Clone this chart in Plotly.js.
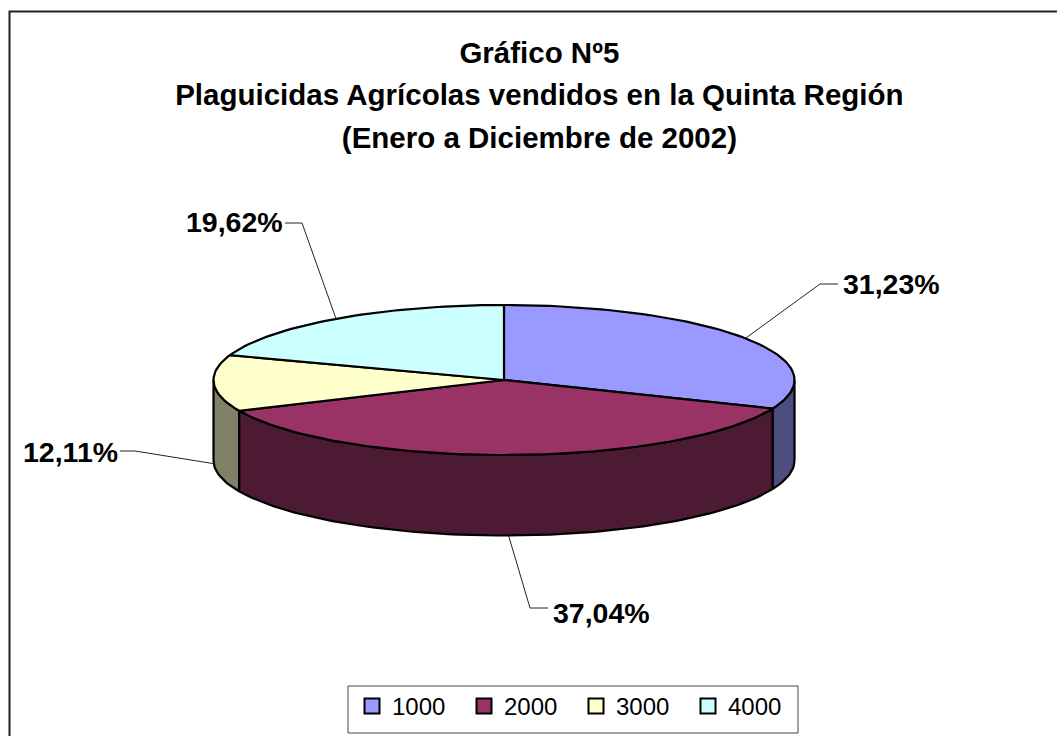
<!DOCTYPE html>
<html><head><meta charset="utf-8">
<script src="https://cdn.plot.ly/plotly-3.0.1.min.js"></script>
<style>html,body{margin:0;padding:0;background:#fff}#c{width:1057px;height:736px}</style>
</head><body><div id="c"></div>
<script>
const categories = ['1000','2000','3000','4000'];
const percents = [31.23,37.04,12.11,19.62];
const topColors = ['#9999FF','#993366','#FFFFCC','#CCFFFF'];
const sideColors = ['#4D4D80','#4D1A33','#808066','#668080'];
const labelElbows = [[820,284],[530,608],[135,451],[302,223]];
const labelEnds = [[838,284],[548,608],[120,451],[285,223]];
const labelY = [284,613,452,222];
const titleLines = ['Gráfico Nº5','Plaguicidas Agrícolas vendidos en la Quinta Región','(Enero a Diciembre de 2002)'];

const cx=504, cy=380, rx=290.5, ry=75, depth=80.5;
const FONT='Liberation Sans, Arial, sans-serif';
const px=t=>cx+rx*Math.sin(t*Math.PI/180);
const py=t=>cy-ry*Math.cos(t*Math.PI/180);
function arc(a,b){const n=Math.max(2,Math.ceil(Math.abs(b-a)/1.5));const xs=[],ys=[];
  for(let i=0;i<=n;i++){const t=a+(b-a)*i/n;xs.push(px(t));ys.push(py(t));}return [xs,ys];}

const total=percents.reduce((s,v)=>s+v,0);
let acc=0;
const spans=percents.map(v=>{const a=acc/total*360;acc+=v;return [a,acc/total*360];});

const traces=[];
// side walls (only the front half, 90..270 deg, is visible)
spans.forEach((s,i)=>{
  const a=Math.max(s[0],90), b=Math.min(s[1],270);
  if(b<=a) return;
  const [xs,ys]=arc(a,b);
  const X=xs.concat(xs.slice().reverse(),[xs[0]]);
  const Y=ys.map(y=>y+depth).concat(ys.slice().reverse(),[ys[0]+depth]);
  traces.push({x:X,y:Y,mode:'lines',fill:'toself',fillcolor:sideColors[i],
    line:{color:'#000',width:2.2},showlegend:false,hoverinfo:'skip'});
});
// top faces
spans.forEach((s,i)=>{
  const [xs,ys]=arc(s[0],s[1]);
  traces.push({x:[cx].concat(xs,[cx]),y:[cy].concat(ys,[cy]),mode:'lines',fill:'toself',
    fillcolor:topColors[i],line:{color:'#000',width:2.2},showlegend:false,
    name:categories[i],text:categories[i],hoverinfo:'text'});
});
// leader lines
spans.forEach((s,i)=>{
  const mid=(s[0]+s[1])/2, c=Math.cos(mid*Math.PI/180);
  const ax=px(mid), ay=py(mid)+(c<0?depth:0);
  traces.push({x:[ax,labelElbows[i][0],labelEnds[i][0]],y:[ay,labelElbows[i][1],labelEnds[i][1]],
    mode:'lines',line:{color:'#222',width:1},showlegend:false,hoverinfo:'skip'});
});
// legend entries
categories.forEach((c,i)=>{
  traces.push({x:[null],y:[null],mode:'markers',name:c,
    marker:{symbol:'square',size:15,color:topColors[i],line:{color:'#000',width:2}},hoverinfo:'skip'});
});

const annotations=percents.map((v,i)=>{
  const right=labelEnds[i][0]<labelElbows[i][0];
  return {x:labelEnds[i][0]+(right?0:3),y:labelY[i],xref:'x',yref:'y',showarrow:false,
    xanchor:right?'right':'left',yanchor:'middle',
    text:'<b>'+v.toFixed(2).replace('.',',')+'%</b>',
    font:{family:FONT,size:28.5,color:'#000'}};
});

const layout={
  width:1057,height:736,margin:{l:0,r:0,t:0,b:0},paper_bgcolor:'#fff',plot_bgcolor:'#fff',
  title:{text:titleLines.map(t=>'<span style="font-size:29.5px"><b>'+t+'</b></span>').join('<br>'),
    font:{family:FONT,size:32.7,color:'#000'},x:0.5103,xanchor:'center',y:0.915,yanchor:'middle'},
  xaxis:{range:[0,1057],visible:false,fixedrange:true},
  yaxis:{range:[736,0],visible:false,fixedrange:true},
  shapes:[
    {type:'rect',xref:'x',yref:'y',x0:9.5,x1:1100,y0:11.5,y1:800,line:{color:'#222',width:2},layer:'below'},
    {type:'rect',xref:'x',yref:'y',x0:348,x1:798,y0:686,y1:733,line:{color:'#444',width:1},fillcolor:'#fff',layer:'below'}
  ],
  annotations,
  legend:{orientation:'h',x:352/1057,y:1-684/736,xanchor:'left',yanchor:'top',
    bgcolor:'rgba(0,0,0,0)',borderwidth:0,font:{family:FONT,size:24,color:'#000'},
    entrywidth:67,entrywidthmode:'pixels',itemwidth:30,traceorder:'normal'},
  showlegend:true
};
Plotly.newPlot('c',traces,layout,{displayModeBar:false,staticPlot:true});
</script></body></html>
